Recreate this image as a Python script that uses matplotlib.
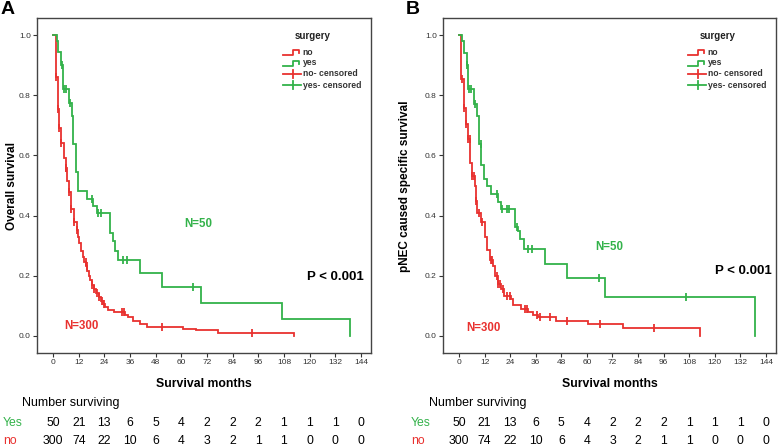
import numpy as np
import matplotlib
matplotlib.use("Agg")
import matplotlib.pyplot as plt
from matplotlib.transforms import blended_transform_factory

plt.rcParams['font.family'] = ['Liberation Sans', 'DejaVu Sans']

RED = '#e8312f'
GREEN = '#33b24a'

# ---------------- data ----------------
# Panel A: overall survival
A_yes_t = [0, 1.7, 2.5, 3.7, 4.8, 7.3, 8.7, 9.5, 10.8, 11.8, 15.7, 18.5, 20.4, 26.6, 27.9, 29.0,
           30.2, 40.7, 50.8, 69.2, 106.9, 138.9]
A_yes_s = [1.0, 0.98, 0.945, 0.90, 0.82, 0.775, 0.73, 0.637, 0.546, 0.481, 0.456, 0.431, 0.409,
           0.343, 0.314, 0.281, 0.253, 0.209, 0.164, 0.109, 0.055, 0.0]
A_yes_cens = [4.0, 5.1, 5.9, 7.8, 18.0, 21.0, 22.6, 32.9, 34.4, 65.6]

A_no_t = [0, 1.4, 2.2, 2.9, 3.7, 5.3, 5.9, 6.7, 7.5, 8.4, 9.8, 11.1, 11.8, 12.2, 13.1, 13.8, 14.5,
          15.4, 16.0, 16.8, 17.5, 18.3, 19.2, 20.2, 21.3, 22.3, 23.5, 24.5, 25.9, 28.5, 33.5, 35.2,
          37.5, 40.7, 43.8, 60.8, 66.8, 77.0, 112.9]
A_no_s = [1.0, 0.86, 0.753, 0.692, 0.642, 0.59, 0.559, 0.514, 0.478, 0.422, 0.379, 0.353, 0.33,
          0.309, 0.281, 0.262, 0.245, 0.233, 0.215, 0.2, 0.185, 0.17, 0.155, 0.142, 0.128, 0.115,
          0.105, 0.097, 0.087, 0.08, 0.07, 0.062, 0.05, 0.04, 0.031, 0.023, 0.018, 0.011, 0.0]
A_no_cens = [1.4, 2.2, 2.9, 3.7, 5.9, 6.2, 7.6, 8.6, 10.0, 11.3, 15.3, 15.8, 18.3, 19.3, 20.4,
             21.5, 23.0, 24.0, 32.1, 33.2, 50.8, 92.9]

# Panel B: pNEC caused specific survival
B_yes_t = [0, 1.4, 2.3, 3.6, 4.2, 7.0, 8.3, 9.2, 10.5, 11.6, 13.1, 15.2, 18.3, 19.8, 26.1, 27.7,
           28.5, 30.5, 40.2, 50.7, 68.6, 139.0]
B_yes_s = [1.0, 0.98, 0.94, 0.90, 0.82, 0.77, 0.73, 0.637, 0.567, 0.523, 0.498, 0.473, 0.445,
           0.423, 0.362, 0.35, 0.323, 0.29, 0.24, 0.192, 0.129, 0.0]
B_yes_cens = [3.9, 4.9, 5.8, 7.5, 10.3, 18.0, 20.0, 22.4, 23.5, 27.2, 32.5, 34.1, 65.5, 106.6]

B_no_t = [0, 0.8, 2.3, 3.4, 4.2, 5.3, 6.2, 7.5, 7.8, 8.6, 10.5, 12.0, 13.1, 14.4, 15.9, 17.0,
          18.3, 19.8, 21.1, 24.5, 25.3, 29.2, 32.4, 34.7, 37.0, 45.6, 60.5, 76.9, 112.9]
B_no_s = [1.0, 0.855, 0.757, 0.705, 0.655, 0.574, 0.533, 0.50, 0.447, 0.41, 0.378, 0.328, 0.284,
          0.251, 0.232, 0.2, 0.173, 0.156, 0.134, 0.121, 0.101, 0.09, 0.079, 0.068, 0.062, 0.051,
          0.04, 0.027, 0.0]
B_no_cens = [1.4, 2.3, 3.4, 4.2, 5.2, 6.2, 7.2, 8.0, 9.5, 10.6, 14.8, 15.6, 17.7, 18.5, 19.3,
             20.5, 22.5, 24.0, 31.0, 32.0, 36.5, 38.0, 42.6, 50.8, 66.0, 91.5]

x_ticks = [0, 12, 24, 36, 48, 60, 72, 84, 96, 108, 120, 132, 144]
risk_yes = [50, 21, 13, 6, 5, 4, 2, 2, 2, 1, 1, 1, 0]
risk_no = [300, 74, 22, 10, 6, 4, 3, 2, 1, 1, 0, 0, 0]

legend_labels = ['no', 'yes', 'no- censored', 'yes- censored']

panels = [
    dict(letter='A', ylabel='Overall survival',
         yes=(A_yes_t, A_yes_s, A_yes_cens), no=(A_no_t, A_no_s, A_no_cens),
         n50=(67.8, 0.373), n300=(13.3, 0.033), p=(132.0, 0.197),
         rect=[37/778, 1-353/447, 334/778, 335/447], fig_x0=0, ylab_x=12),
    dict(letter='B', ylabel='pNEC caused specific survival',
         yes=(B_yes_t, B_yes_s, B_yes_cens), no=(B_no_t, B_no_s, B_no_cens),
         n50=(70.4, 0.297), n300=(11.7, 0.026), p=(133.2, 0.215),
         rect=[443/778, 1-353/447, 333/778, 335/447], fig_x0=388, ylab_x=405),
]


def step_value(t, s, tc):
    t = np.asarray(t)
    s = np.asarray(s)
    idx = np.searchsorted(t, tc, side='right') - 1
    return s[idx]


fig = plt.figure(figsize=(7.78, 4.47), dpi=100)
W, H = 778.0, 447.0

for p in panels:
    ax = fig.add_axes(p['rect'])
    for key, col in (('no', RED), ('yes', GREEN)):
        t, s, cens = p[key]
        ax.step(t, s, where='post', color=col, lw=1.3, solid_joinstyle='miter')
        cs = step_value(t, s, cens)
        ax.plot(cens, cs, ls='none', marker='|', ms=5.5, mew=1.3, color=col)

    ax.set_xlim(-7.5, 148.7)
    ax.set_ylim(-0.057, 1.057)
    ax.set_xticks(x_ticks)
    ax.set_yticks([0.0, 0.2, 0.4, 0.6, 0.8, 1.0])
    ax.set_yticklabels(['0.0', '0.2', '0.4', '0.6', '0.8', '1.0'])
    ax.tick_params(axis='both', labelsize=6, colors='#333333', length=3, width=0.8, pad=1.5)
    for sp in ax.spines.values():
        sp.set_color('#444444')
        sp.set_linewidth(1.0)

    fig.text(p['ylab_x'] / W, 1 - 186 / H, p['ylabel'], rotation=90, fontsize=8.5,
             fontweight='bold', ha='center', va='center')

    # annotations
    ax.text(*p['n50'], 'N=50', color=GREEN, fontsize=8.3, fontweight='bold', ha='center', va='center')
    ax.text(*p['n300'], 'N=300', color=RED, fontsize=8.3, fontweight='bold', ha='center', va='center')
    ax.text(*p['p'], 'P < 0.001', color='black', fontsize=9.5, fontweight='bold', ha='center', va='center')

    # legend (drawn manually, SPSS style)
    lx0, lx1, lmid, ltx = 0.737, 0.79, 0.765, 0.795
    ax.text(0.826, 0.946, 'surgery', transform=ax.transAxes, fontsize=7, fontweight='bold',
            color='#222222', ha='center', va='center')
    ys = [0.898, 0.866, 0.833, 0.800]
    cols = [RED, GREEN, RED, GREEN]
    for i, (lab, yy, col) in enumerate(zip(legend_labels, ys, cols)):
        if i < 2:
            ax.plot([lx0, lmid, lmid, lx1 - 0.005, lx1 - 0.005],
                    [yy - 0.008, yy - 0.008, yy + 0.006, yy + 0.006, yy - 0.002],
                    transform=ax.transAxes, color=col, lw=1.3, clip_on=False)
        else:
            ax.plot([lx0, lx1], [yy, yy], transform=ax.transAxes, color=col, lw=1.3, clip_on=False)
            ax.plot([lmid, lmid], [yy - 0.013, yy + 0.013], transform=ax.transAxes, color=col,
                    lw=1.3, clip_on=False)
        ax.text(ltx, yy, lab, transform=ax.transAxes, fontsize=6.2, fontweight='bold',
                color='#333333', ha='left', va='center')

    # x label & number at risk
    x0 = p['fig_x0']
    cx = p['rect'][0] + p['rect'][2] / 2
    fig.text(cx, 1 - 384 / H, 'Survival months', fontsize=8.8, fontweight='bold',
             ha='center', va='center')
    fig.text((x0 + (22 if x0 == 0 else 41)) / W, 1 - 403 / H, 'Number surviving', fontsize=9,
             ha='left', va='center')
    fig.text((x0 + (3 if x0 == 0 else 23)) / W, 1 - 423 / H, 'Yes', fontsize=8.8, color=GREEN,
             ha='left', va='center')
    fig.text((x0 + (3 if x0 == 0 else 23)) / W, 1 - 441 / H, 'no', fontsize=8.8, color=RED,
             ha='left', va='center')
    tr = blended_transform_factory(ax.transData, fig.transFigure)
    for xt, ny, nn in zip(x_ticks, risk_yes, risk_no):
        ax.text(xt, 1 - 423 / H, str(ny), transform=tr, fontsize=8.8, ha='center', va='center',
                clip_on=False)
        ax.text(xt, 1 - 441 / H, str(nn), transform=tr, fontsize=8.8, ha='center', va='center',
                clip_on=False)

    fig.text((x0 + (8 if x0 == 0 else 25)) / W, 1 - 10 / H, p['letter'], fontsize=14,
             fontweight='bold', ha='center', va='center')

fig.savefig('out.png', dpi=100)
